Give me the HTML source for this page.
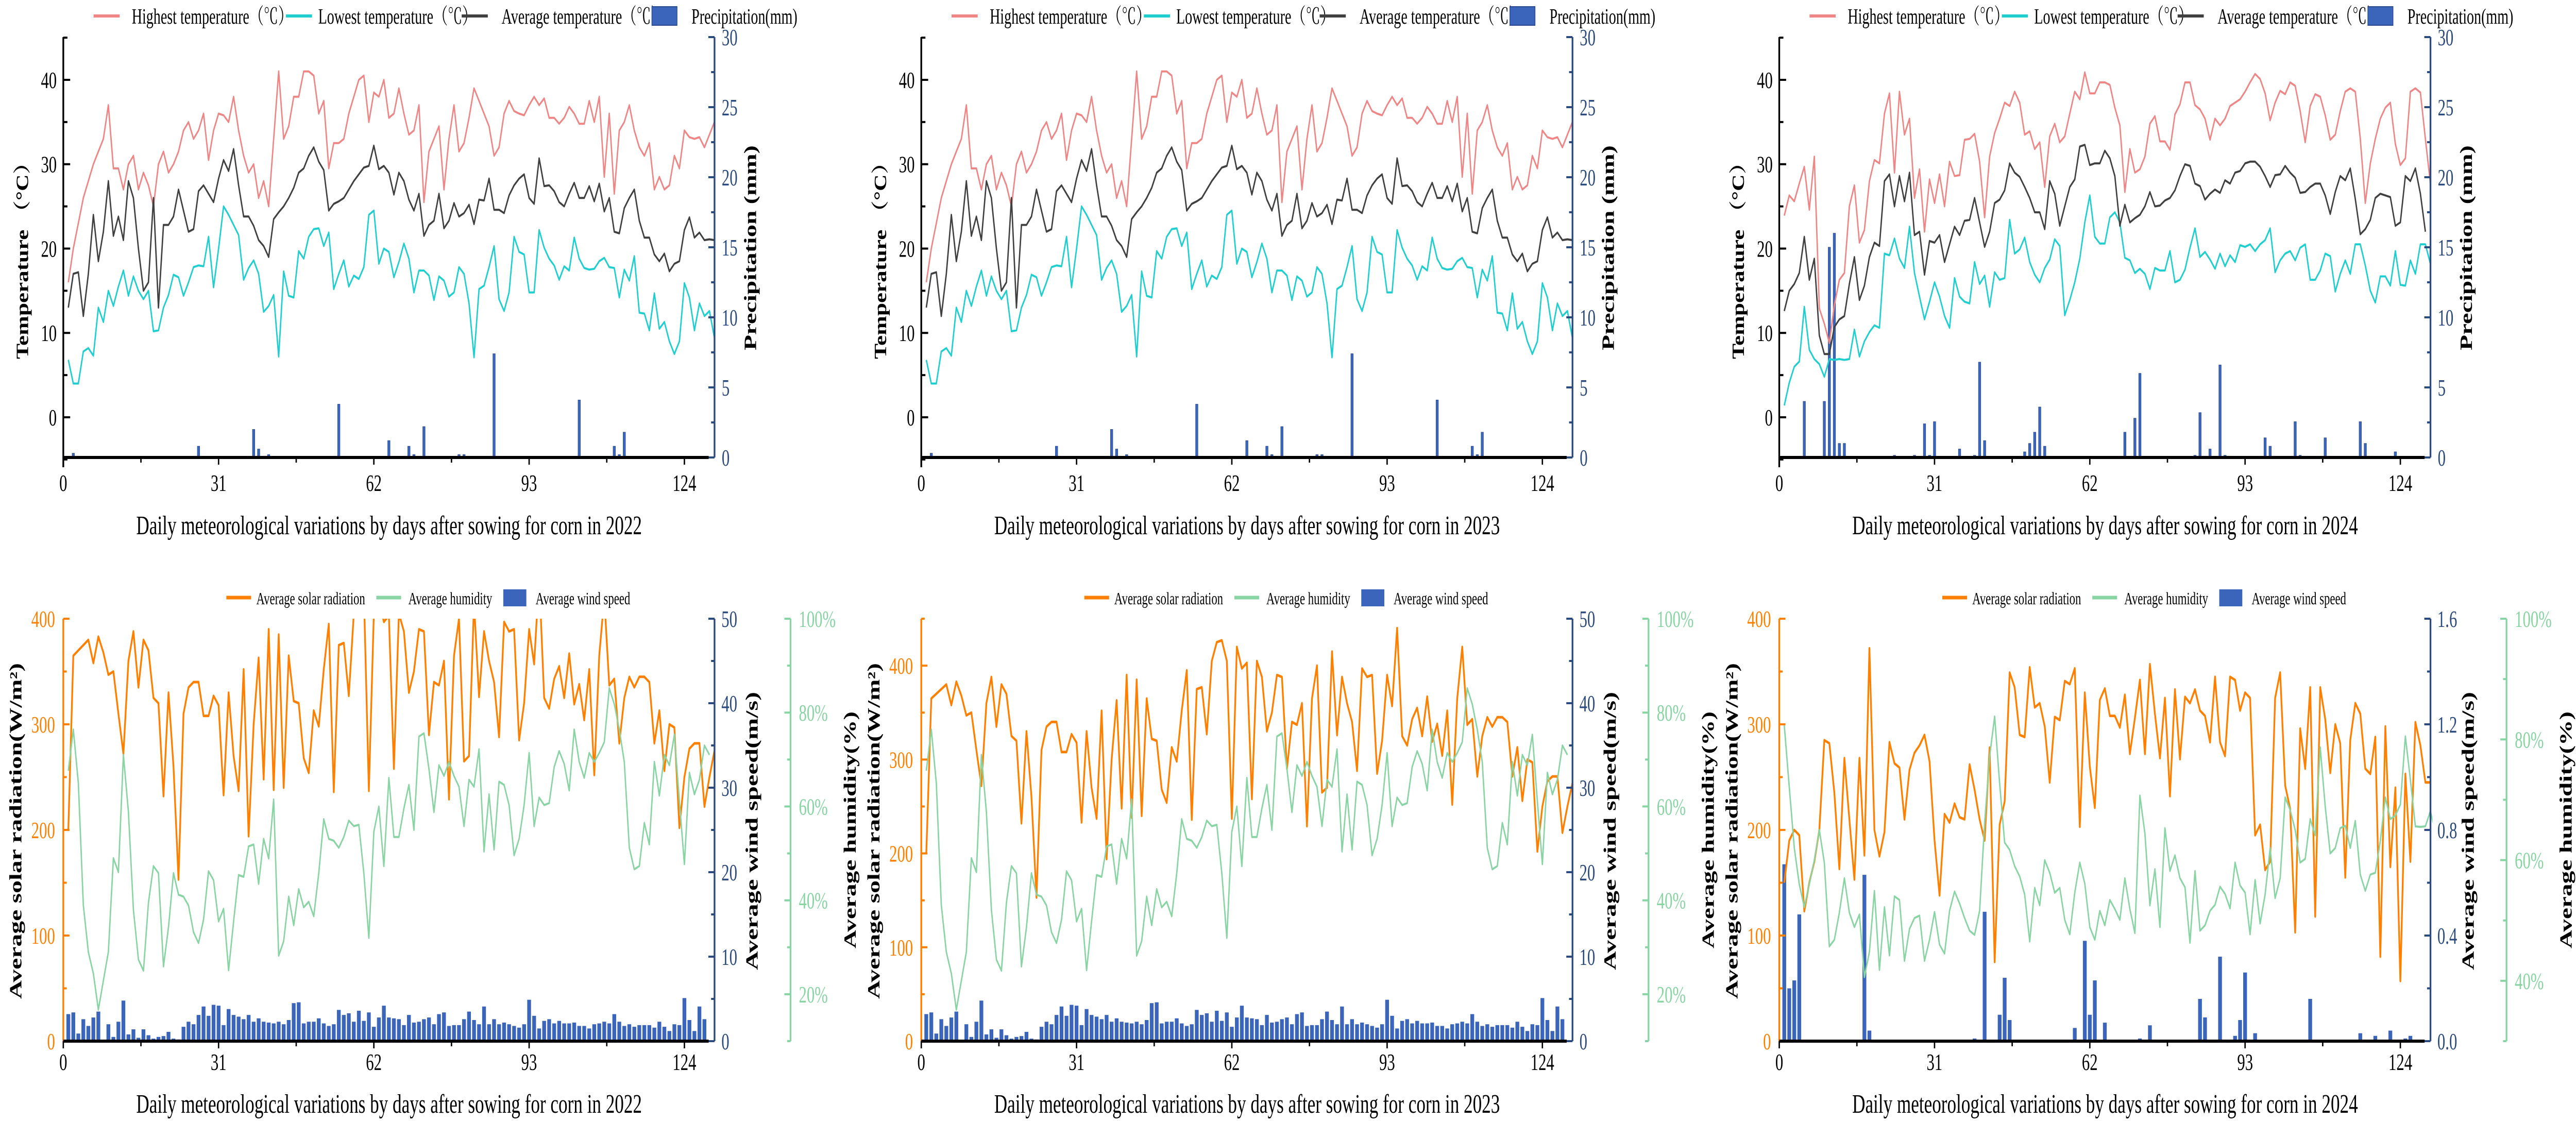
<!DOCTYPE html>
<html><head><meta charset="utf-8">
<style>
html,body{margin:0;padding:0;background:#fff;overflow:hidden;width:100%;height:100%;}
#wrap{position:absolute;left:0;top:0;width:100vw;height:100vh;overflow:hidden;}
svg{display:block;width:100%;height:100%;font-family:"Liberation Serif","Noto Serif CJK SC",serif;}
</style></head>
<body>
<div id="wrap">
<svg id="chart" xmlns="http://www.w3.org/2000/svg" viewBox="0 0 7488 2176" preserveAspectRatio="none"></svg>
</div>
<script>
// ===== 2022 =====
const high2022 = [16,20,23,26,28,30,31.5,33,37,29.5,29.5,27,30,31,27,29,27.5,25,30,31.5,29,30,31.5,34,35,33,34,36,30.5,34,36,35.8,35,38,34,31,29,30,26,28,25,33,41,33,34.5,38,38,41,41,40.5,36,37.5,29.5,32.5,32.5,33,36,38,40,40.5,35,38.5,38,40,35.5,36,39,36,33.5,34,37,25.5,31.5,33,34.5,27,33,37,31.5,32.5,35.5,39,37.5,36,34.5,31,32,36,37.5,36.3,36,35.8,37,38,37,37.8,35.5,35.5,34.8,35.5,36.8,36,34.8,34.8,37.5,35,38,28.5,36,26.5,34,35,37,34,32,31,32.5,27,28.5,27,27.5,31,29.5,34,33.2,33,33.2,32,33.5,35];
const avg2022 = [13,17,17.2,12,17,24,18.5,22,28,21.5,23.8,21,28,26,20,15,16,26,13,22.8,22.8,23.8,27,24.5,22,22.3,26.8,27.5,26.5,25.5,28.3,30.5,29.2,31.8,27.5,23.8,23.8,22.7,21,20.3,19,23.5,24.3,25,26,27.2,29,29.5,31,32,30.3,29.3,24.5,25.3,25.6,26,27,28,28.8,29.6,29.8,32.2,29.4,29.8,29,26.4,29,28,25.8,24.5,26.5,21.5,22.8,23.3,26.5,22.4,23.3,25.4,23.8,24.2,25.2,22.9,25.8,25.7,28.3,24.6,24.6,24.2,26.3,27.5,28.3,28.8,26,25.3,30.7,27.4,27.5,26.8,25.5,25,26.5,27.8,26,26,27.4,25.6,27.7,24.4,26,22,21.8,24.8,26,27,23.3,21.3,21.3,19.3,18.5,19.4,17.3,18.2,18.5,22.2,23.7,21.3,21.9,21,21.1,21];
const low2022 = [6.8,4,4,7.8,8.2,7.3,13,11.3,15,13.2,15.5,17.4,14.4,16.7,15,14,15,10.2,10.3,13,14.5,16.9,16.6,14.4,16,17.8,18,17.9,21.4,15.4,20,25,24,22.8,21.6,16.3,17.7,18.6,17,12.5,13.2,14.5,7.2,17.3,14.4,14.2,19.7,18.8,21.4,22.3,22.4,20.3,21.9,15.2,17,18.6,15.5,16.8,16.4,17.8,24,24.5,18.2,20,19.6,16.6,18.4,20.6,18.8,14.8,17.4,17.4,16.8,13.9,16.7,16.2,14.3,14.8,17.8,17,13.5,7.1,15.2,15.6,17.8,20.3,14,12.6,14.8,21.4,19.6,19.3,14.8,14.8,22.2,20.1,18.8,18,16.3,17.9,17.4,21.3,18.8,17.7,17.5,17.6,18.5,18.9,17.8,17.7,14.2,17.5,16.2,19.1,12.4,12.3,10.3,14.7,10.5,11.3,9,7.5,9,15.9,14.2,10.3,13.5,12,12.6,9.4];
const precipDays2022 = [2,27,38,39,41,55,65,69,70,72,79,80,86,103,110,111,112];
const precip2022 = [0.3,0.8,2.0,0.6,0.2,3.8,1.2,0.8,0.2,2.2,0.2,0.2,7.4,4.1,0.8,0.2,1.8];
const rad2022 = [200,365,370,375,380,358,383,368,347,350,310,272,360,388,335,380,370,325,320,232,330,260,153,310,335,340,340,308,308,327,318,233,330,270,237,352,194,300,363,248,390,238,385,240,365,322,320,268,254,313,298,352,395,236,375,377,327,405,425,427,237,405,420,397,403,258,405,388,330,350,390,388,290,340,337,360,229,365,400,265,270,415,326,388,360,340,288,397,388,390,285,320,390,357,440,325,315,343,355,325,367,319,338,304,352,252,365,420,337,343,282,325,345,335,345,345,340,282,313,256,300,297,202,250,277,282,282,222,250,275];
const hum2022 = [67.6,76.4,65,39,29,24.4,16.7,22.9,29,49,46,71,58.8,38,27.4,25,39.5,47.3,45.8,25.9,34.3,45.8,41.2,40.8,38.9,33.2,30.9,35.9,46.2,44.3,35.5,38.2,25.1,35.5,45.4,45,51.5,51.9,43.5,53.1,48.9,61.5,28.2,31.3,40.8,34.7,42.4,38.5,39.7,36.6,45.8,57.3,53.1,52.7,51.2,53.5,57,55.8,56.1,45.8,32,54.6,60,47.3,66.1,53.5,53.5,59.6,64.6,55,74.9,75.6,68,58.8,68.8,66.5,69.5,66.5,64.2,55.8,65.7,64.2,72.2,50.4,62.6,50.8,65.3,64.6,60.3,49.6,53.1,60.3,71.4,55.8,61.9,60.3,60.7,68.4,71.8,69.1,63.4,76.4,69.5,66.1,71.4,69.5,71.4,73.7,85.2,81.8,76.4,69.5,51.2,46.6,47.3,56.5,51.9,69.5,62.3,71,68.8,75.3,61.1,47.7,67.2,62.6,65.7,73,71];
const wind2022 = [3.2,3.4,0.9,2.6,1.8,2.8,3.5,0,2,0.5,2.3,4.8,0.8,1.4,0.4,1.4,0.7,0.3,0.5,0.6,1.1,0.3,0.2,1.7,2.3,2,3.1,4.1,3,4.3,4.2,1.9,3.8,3.1,2.9,2.6,3.1,2.3,2.7,2.3,2.2,2.1,2.3,2,2.5,4.5,4.6,2.1,2.3,2.3,2.7,2.1,1.8,2,3.7,3.1,3.3,2.3,3.6,2.4,3.4,1.7,2.8,4.2,2.8,2.7,2.6,1.9,3.1,2.2,2.3,2.6,2.8,2,3.2,3.4,1.8,1.9,1.9,2.6,3.5,2.5,2,4.1,2,2.6,2,2.2,2,1.8,1.6,2,4.9,3,1.5,2.4,2.6,2.1,2.4,2.1,2.1,2.2,1.8,1.8,1.5,2,2.1,2.3,2.1,3.2,2.3,1.8,2,1.7,1.9,1.9,1.9,1.6,2.3,1.7,1.2,2,1.9,5.1,2.5,1.2,4.1,2.6];
// ===== 2023 =====
const high2023 = [16,20,23,26,28,30,31.5,33,37,29.5,29.5,27,30,31,27,29,27.5,25,30,31.5,29,30,31.5,34,35,33,34,36,30.5,34,36,35.8,35,38,34,31,29,30,26,28,25,33,41,33,34.5,38,38,41,41,40.5,36,37.5,29.5,32.5,32.5,33,36,38,40,40.5,35,38.5,38,40,35.5,36,39,36,33.5,34,37,25.5,31.5,33,34.5,27,33,37,31.5,32.5,35.5,39,37.5,36,34.5,31,32,36,37.5,36.3,36,35.8,37,38,37,37.8,35.5,35.5,34.8,35.5,36.8,36,34.8,34.8,37.5,35,38,28.5,36,26.5,34,35,37,34,32,31,32.5,27,28.5,27,27.5,31,29.5,34,33.2,33,33.2,32,33.5,35];
const avg2023 = [13,17,17.2,12,17,24,18.5,22,28,21.5,23.8,21,28,26,20,15,16,26,13,22.8,22.8,23.8,27,24.5,22,22.3,26.8,27.5,26.5,25.5,28.3,30.5,29.2,31.8,27.5,23.8,23.8,22.7,21,20.3,19,23.5,24.3,25,26,27.2,29,29.5,31,32,30.3,29.3,24.5,25.3,25.6,26,27,28,28.8,29.6,29.8,32.2,29.4,29.8,29,26.4,29,28,25.8,24.5,26.5,21.5,22.8,23.3,26.5,22.4,23.3,25.4,23.8,24.2,25.2,22.9,25.8,25.7,28.3,24.6,24.6,24.2,26.3,27.5,28.3,28.8,26,25.3,30.7,27.4,27.5,26.8,25.5,25,26.5,27.8,26,26,27.4,25.6,27.7,24.4,26,22,21.8,24.8,26,27,23.3,21.3,21.3,19.3,18.5,19.4,17.3,18.2,18.5,22.2,23.7,21.3,21.9,21,21.1,21];
const low2023 = [6.8,4,4,7.8,8.2,7.3,13,11.3,15,13.2,15.5,17.4,14.4,16.7,15,14,15,10.2,10.3,13,14.5,16.9,16.6,14.4,16,17.8,18,17.9,21.4,15.4,20,25,24,22.8,21.6,16.3,17.7,18.6,17,12.5,13.2,14.5,7.2,17.3,14.4,14.2,19.7,18.8,21.4,22.3,22.4,20.3,21.9,15.2,17,18.6,15.5,16.8,16.4,17.8,24,24.5,18.2,20,19.6,16.6,18.4,20.6,18.8,14.8,17.4,17.4,16.8,13.9,16.7,16.2,14.3,14.8,17.8,17,13.5,7.1,15.2,15.6,17.8,20.3,14,12.6,14.8,21.4,19.6,19.3,14.8,14.8,22.2,20.1,18.8,18,16.3,17.9,17.4,21.3,18.8,17.7,17.5,17.6,18.5,18.9,17.8,17.7,14.2,17.5,16.2,19.1,12.4,12.3,10.3,14.7,10.5,11.3,9,7.5,9,15.9,14.2,10.3,13.5,12,12.6,9.4];
const precipDays2023 = [2,27,38,39,41,55,65,69,70,72,79,80,86,103,110,111,112];
const precip2023 = [0.3,0.8,2.0,0.6,0.2,3.8,1.2,0.8,0.2,2.2,0.2,0.2,7.4,4.1,0.8,0.2,1.8];
const rad2023 = [200,365,370,375,380,358,383,368,347,350,310,272,360,388,335,380,370,325,320,232,330,260,153,310,335,340,340,308,308,327,318,233,330,270,237,352,194,300,363,248,390,238,385,240,365,322,320,268,254,313,298,352,395,236,375,377,327,405,425,427,405,237,420,397,403,258,405,388,330,350,390,388,290,340,337,360,229,365,400,265,270,415,326,388,360,340,288,397,388,390,285,320,390,357,440,325,315,343,355,325,367,319,338,304,352,252,365,420,337,343,282,325,345,335,345,345,340,282,313,256,300,297,202,250,277,282,282,222,250,275];
const hum2023 = [67.6,76.4,65,39,29,24.4,16.7,22.9,29,49,46,71,58.8,38,27.4,25,39.5,47.3,45.8,25.9,34.3,45.8,41.2,40.8,38.9,33.2,30.9,35.9,46.2,44.3,35.5,38.2,25.1,35.5,45.4,45,51.5,51.9,43.5,53.1,48.9,61.5,28.2,31.3,40.8,34.7,42.4,38.5,39.7,36.6,45.8,57.3,53.1,52.7,51.2,53.5,57,55.8,56.1,45.8,32,54.6,60,47.3,66.1,53.5,53.5,59.6,64.6,55,74.9,75.6,68,58.8,68.8,66.5,69.5,66.5,64.2,55.8,65.7,64.2,72.2,50.4,62.6,50.8,65.3,64.6,60.3,49.6,53.1,60.3,71.4,55.8,61.9,60.3,60.7,68.4,71.8,69.1,63.4,76.4,69.5,66.1,71.4,69.5,71.4,73.7,85.2,81.8,76.4,69.5,51.2,46.6,47.3,56.5,51.9,69.5,62.3,71,68.8,75.3,61.1,47.7,67.2,62.6,65.7,73,71];
const wind2023 = [3.2,3.4,0.9,2.6,1.8,2.8,3.5,0,2,0.5,2.3,4.8,0.8,1.4,0.4,1.4,0.7,0.3,0.5,0.6,1.1,0.3,0.2,1.7,2.3,2,3.1,4.1,3,4.3,4.2,1.9,3.8,3.1,2.9,2.6,3.1,2.3,2.7,2.3,2.2,2.1,2.3,2,2.5,4.5,4.6,2.1,2.3,2.3,2.7,2.1,1.8,2,3.7,3.1,3.3,2.3,3.6,2.4,3.4,1.7,2.8,4.2,2.8,2.7,2.6,1.9,3.1,2.2,2.3,2.6,2.8,2,3.2,3.4,1.8,1.9,1.9,2.6,3.5,2.5,2,4.1,2,2.6,2,2.2,2,1.8,1.6,2,4.9,3,1.5,2.4,2.6,2.1,2.4,2.1,2.1,2.2,1.8,1.8,1.5,2,2.1,2.3,2.1,3.2,2.3,1.8,2,1.7,1.9,1.9,1.9,1.6,2.3,1.7,1.2,2,1.9,5.1,2.5,1.2,4.1,2.6];
// ===== 2024 =====
const high2024 = [23.9,26.3,25.6,27.7,29.7,24.6,30.9,12.9,11.1,8.8,13.3,16.3,17.1,25,27.5,20.7,22.2,28,30.5,30.1,36,38.4,29,38.6,33.5,35.4,26,29.4,22,28.2,25.4,28.8,25,30.3,28.6,28.7,32.9,33,33.6,30.3,23.7,30.9,33.7,35.4,37.3,36.9,38.6,37.3,33.5,33.9,31.8,32.6,27.3,33.3,34.8,32.6,33.3,36,38.6,37.7,40.9,38.4,38.4,39.7,39.7,39.4,36.7,34.6,26.7,31.8,29,29.4,30.9,34.8,35.7,32.7,32.7,31.7,35.9,37.1,39.7,39.7,37,36.5,35.4,32.9,35.4,34.6,35.4,36.9,37.3,37.7,38.6,39.7,40.7,40.1,38.4,35.2,37.3,38.7,38.3,39.7,39.3,36.3,32.6,36.9,38.3,38,35.8,32.9,33.5,36.3,38.6,39,38.6,33,25.4,30.1,33,35.4,36.7,37.3,32.4,29.9,30.7,38.6,39,38.5,33,27.7];
const avg2024 = [12.6,15,15.8,17.1,21.4,16.3,18.8,9.7,7.5,7.5,10.7,11.6,12,15.8,19,13.9,15.6,19,20.7,20.3,28,28.8,25,28.6,25.6,29,21.6,22,16.9,20.9,20.7,21.6,18.4,20.5,22.6,21.6,23.3,23.4,26,23.1,20.2,22,25.4,25.8,26.9,30.1,29,28.5,27.3,26,24.3,24.3,22.3,28,26.5,22.7,25,27.3,28.2,32.1,32.3,29.9,30.1,30.1,31.6,30.7,28.6,22.7,25.2,23.1,23.6,24,25,26.7,25,25.1,25.7,26,26.9,28.6,30,29.8,27.7,27.4,25.8,26.5,27,26.6,28.1,27.7,29,29.2,30.1,30.3,30.3,29.7,28.6,27.3,28.7,28.8,29.8,29,28.4,26.6,26.7,27.3,27.7,27.7,26.3,24.1,26.7,28.6,28.1,29.5,25.9,21.7,22.3,23.4,26,26.5,26.3,26.1,22.7,23.1,28.6,28,29.5,26.5,22];
const low2024 = [1.4,4.1,6,6.6,13.1,8,6.9,6.3,4.8,6.9,6.8,6.9,6.8,6.9,10.4,7.2,9,10.1,10.9,10.6,19.4,19.2,21.2,18.8,17.7,22.6,17.1,14.3,11.6,13.7,16,14.3,12,10.6,16.5,14.3,13.7,13.5,18.4,15.8,16.8,13.1,17.2,16.3,16.5,23.4,19.4,19.9,21.3,18.4,16.9,16,17.7,18.7,21.1,20.3,12.1,13.9,16,18.8,23.1,26.3,21.4,20.6,20.6,23.7,24.3,23.1,18.9,18.6,17.1,17.6,17,15.2,17.7,17.4,17.4,19.7,16,16.3,17.5,20.1,22.4,19,19.6,18.7,17.6,19.4,17.9,19.2,18.4,20.4,20.2,20.5,19.7,20.5,21,22.4,17.2,18.6,19.4,19.7,18.6,20.1,20.5,16.3,16.3,17.4,19.4,19.1,14.9,17,18.6,17,20.5,20.5,18,15,13.6,16.7,16.7,15.6,19.7,15.7,15.6,18.6,17,20.5,20.5,18.2];
const precipDays2024 = [5,9,10,11,12,13,23,27,29,30,31,36,39,40,41,49,50,51,52,53,69,71,72,83,84,86,88,89,97,98,103,104,109,116,117,123];
const precip2024 = [4.0,4.0,15.0,16.0,1.0,1.0,0.15,0.15,2.4,0.15,2.55,0.6,0.15,6.8,1.2,0.4,1.0,1.8,3.6,0.8,1.8,2.8,6.0,0.15,3.2,0.6,6.6,0.15,1.4,0.8,2.55,0.15,1.4,2.55,1.0,0.4];
const rad2024 = [150,190,200,195,123,150,170,200,285,282,235,163,268,210,153,268,176,372,200,175,198,283,263,259,210,257,273,280,290,265,190,138,215,207,225,212,210,262,238,210,190,278,75,205,227,349,335,290,288,354,316,320,298,245,307,304,341,338,353,203,330,260,221,323,334,308,308,297,328,272,306,342,272,357,310,268,325,232,333,267,326,320,333,313,308,283,345,283,270,345,342,313,330,325,195,205,162,170,325,349,242,220,103,296,258,335,118,335,305,254,300,282,155,285,320,310,258,253,288,80,298,165,240,57,253,170,302,280,245,245];
const hum2024 = [82.3,72.1,62,56,52.2,56,60,65,59.6,45.7,46.8,51.3,57,51.3,48.9,51,40.6,44.8,54.9,41.8,52.2,44.2,54,53.4,43.3,48.6,50.4,50.8,43.3,46.8,51.4,46,44.5,51.6,54.8,52.8,50.4,48.3,47.6,51.6,66.2,77.2,83.8,72.7,62.9,61.7,59,57.3,54.3,46.5,55.4,52.5,60,57.9,54.6,55.4,50.1,47.7,54.6,59.6,56.1,48.9,46.8,51.6,49.2,53.4,51.9,50.1,57,51.9,47.9,70.7,64.4,52.5,58.5,48.9,65.3,58.2,60.8,57,55.5,46.3,58.2,48.3,49.2,51.6,52.6,55.6,54.4,52,59.6,55.8,54.6,47.7,56.7,49.5,54.3,62,53.7,57,70.4,68.3,65,59.6,60.2,66.8,64.1,78.7,68.9,61.1,62,65.3,65.7,62,66.5,57.6,54.9,57.6,57.9,63.2,70.4,66.8,67.4,69.2,80.5,73.3,65.6,65.5,65.6,68.1,64.4];
const windDays2024 = [1,2,3,4,17,18,39,41,44,45,46,59,61,62,63,65,72,74,84,85,88,91,92,93,95,106,116,119,122,125,126];
const wind2024 = [0.67,0.2,0.23,0.48,0.63,0.04,0.01,0.49,0.1,0.24,0.08,0.05,0.38,0.1,0.23,0.07,0.01,0.06,0.16,0.09,0.32,0.02,0.08,0.26,0.03,0.16,0.03,0.02,0.04,0.01,0.02];
// ticks
const xTicks = [0,31,62,93,124];
const tempTicks = [0,10,20,30,40];
const precipTicks = [0,5,10,15,20,25,30];
const radTicks = [0,100,200,300,400];
const windTicks50 = [0,10,20,30,40,50];
const windTicks16 = [0,0.4,0.8,1.2,1.6];
const windLabels16 = ['0.0','0.4','0.8','1.2','1.6'];
const humTicksA = [20,40,60,80,100];
const humTicksB = [40,60,80,100];

const NS='http://www.w3.org/2000/svg';
const svg=document.getElementById('chart');
function mk(tag,attrs,parent,txt){const e=document.createElementNS(NS,tag);for(const k in attrs)e.setAttribute(k,attrs[k]);if(txt!==undefined)e.textContent=txt;(parent||svg).appendChild(e);return e;}
const C={high:'#EF8585',low:'#1FCFCF',avg:'#404040',blue:'#3A65BA',navy:'#2B4A7E',orange:'#FF8000',green:'#88D4A2'};
const X0=184, XS=14.56, XR=2077, HUMX=2298;

function xAxis(off,yAx,gy,lblY,title,titleY){
  const gx=mk('g',{},gy);
  
  
  const ln=mk('line',{x1:off+X0,x2:off+2060,y1:yAx,y2:yAx,stroke:'#000','stroke-width':6},gx);
  
  
  for(let i=0;i<xTicks.length;i++){
    const xx=off+X0+xTicks[i]*XS;
    const tk=mk('line',{x1:xx,x2:xx,y1:yAx,y2:yAx+14,stroke:'#000','stroke-width':4},gx);
    
    
    if(i<xTicks.length-1){const xm=off+X0+(xTicks[i]+15.5)*XS;
      const mt=mk('line',{x1:xm,x2:xm,y1:yAx,y2:yAx+10,stroke:'#000','stroke-width':4},gx);
      
      }
    const t=mk('text',{x:xx,y:lblY,'font-size':46,'text-anchor':'middle'},gx,String(xTicks[i]));
    
    
  }
  const tt=mk('text',{x:off+1131,y:titleY,'font-size':52,'text-anchor':'middle',textLength:1470,lengthAdjust:'spacingAndGlyphs'},gx,title);
  
  
}
function vtitle(g,cx,cy,len,txt,name,size){
  const t=mk('text',{x:0,y:0,'font-size':size,'font-weight':'bold','text-anchor':'middle',textLength:len,lengthAdjust:'spacingAndGlyphs',transform:`translate(${cx+size*0.35},${cy}) rotate(-90)`},g,txt);
  
  
}
function path(g,vals,startDay,fx,fy,color,w,name){
  let d='';for(let i=0;i<vals.length;i++){d+=(i?'L':'M')+fx(startDay+i).toFixed(1)+','+fy(vals[i]).toFixed(1);}
  const p=mk('path',{d:d,fill:'none',stroke:color,'stroke-width':w,'stroke-linejoin':'round'},g);
  
  
}

function topPanel(off,high,avg,low,pDays,pVals,year){
  const g=mk('g',{});
  
  
  const fx=d=>off+X0+d*XS, ft=t=>810-t*16.375, fp=p=>888-p*27.2;
  const lg=mk('g',{},g);
  
  
  const items=[['Highest temperature（℃）',C.high,272,383],['Lowest temperature（℃）',C.low,831,925],['Average temperature（℃）',C.avg,1342,1458]];
  for(const it of items){
    const l=mk('line',{x1:off+it[2],x2:off+it[2]+76,y1:31,y2:31,stroke:it[1],'stroke-width':6},lg);
    
    
    const t=mk('text',{x:off+it[3],y:46,'font-size':42},lg,it[0]);
    
    
  }
  const r=mk('rect',{x:off+1895,y:13,width:73,height:36,fill:C.blue,stroke:'#2a4a90','stroke-width':2},lg);
  
  
  const rt=mk('text',{x:off+2010,y:46,'font-size':42},lg,'Precipitation(mm)');
  
  
  for(let i=0;i<pDays.length;i++){
    const y=fp(pVals[i]);
    const b=mk('rect',{x:fx(pDays[i])-3.5,y:y,width:7,height:888-y,fill:C.blue,stroke:'#2a4a90','stroke-width':1},g);
    
    
  }
  path(g,high,1,fx,ft,C.high,4,'highest-temp-line');
  path(g,low,1,fx,ft,C.low,4,'lowest-temp-line');
  path(g,avg,1,fx,ft,C.avg,4,'average-temp-line');
  const la=mk('line',{x1:off+X0,x2:off+X0,y1:72,y2:907,stroke:'#000','stroke-width':5},g);
  
  
  for(let v=-5;v<=45;v+=5){
    const major=tempTicks.indexOf(v)>=0;
    const tk=mk('line',{x1:off+X0,x2:off+X0+(major?20:12),y1:ft(v),y2:ft(v),stroke:'#000','stroke-width':4},g);
    
    
  }
  for(const v of tempTicks){
    const t=mk('text',{x:off+165,y:ft(v)+16,'font-size':46,'text-anchor':'end'},g,String(v));
    
    
  }
  const ra=mk('line',{x1:off+XR,x2:off+XR,y1:72,y2:888,stroke:C.navy,'stroke-width':5},g);
  
  
  for(let v=0;v<=30;v+=2.5){
    const major=precipTicks.indexOf(v)>=0;
    const tk=mk('line',{x1:off+XR,x2:off+XR-(major?18:10),y1:fp(v),y2:fp(v),stroke:C.navy,'stroke-width':4},g);
    
    
  }
  for(const v of precipTicks){
    const t=mk('text',{x:off+2098,y:fp(v)+16,'font-size':46,fill:C.navy},g,String(v));
    
    
  }
  vtitle(g,off+64,495,404,'Temperature （°C）','temperature-axis-title',50);
  vtitle(g,off+2180,481,398,'Precipitation (mm)','precipitation-axis-title',50);
  xAxis(off,888,g,953,'Daily meteorological variations by days after sowing for corn in '+year,1037);
}

function bottomPanel(off,rad,radMax,hum,humMin,windDays,wind,windMax,wTicks,wLabels,hTicks,year){
  const g=mk('g',{});
  
  
  const YT=1201,YB=2021;
  const fx=d=>off+X0+d*XS, fr=v=>YB-v*(YB-YT)/radMax, fw=v=>YB-v*(YB-YT)/windMax, fh=v=>YB-(v-humMin)*(YB-YT)/(100-humMin);
  const lg=mk('g',{},g);
  
  
  const items=[['Average solar radiation',C.orange,658,745],['Average humidity',C.green,1094,1187]];
  for(const it of items){
    const l=mk('line',{x1:off+it[2],x2:off+it[2]+72,y1:1160,y2:1160,stroke:it[1],'stroke-width':7},lg);
    
    
    const t=mk('text',{x:off+it[3],y:1173,'font-size':34},lg,it[0]);
    
    
  }
  const r=mk('rect',{x:off+1463,y:1144,width:67,height:33,fill:C.blue},lg);
  
  
  const rt=mk('text',{x:off+1557,y:1173,'font-size':34},lg,'Average wind speed');
  
  
  const cid='clip'+year;
  const cp=mk('clipPath',{id:cid},g);
  mk('rect',{x:off+X0,y:YT,width:XR-X0+6,height:YB-YT},cp);
  const cg=mk('g',{'clip-path':`url(#${cid})`},g);
  
  
  for(let i=0;i<wind.length;i++){
    const d=windDays?windDays[i]:i+1;
    const y=fw(wind[i]);
    const b=mk('rect',{x:fx(d)-5.5,y:y,width:11,height:YB-y,fill:C.blue},cg);
    
    
  }
  path(cg,rad,1,fx,fr,C.orange,5,'solar-radiation-line');
  path(cg,hum,1,fx,fh,C.green,4,'humidity-line');
  const la=mk('line',{x1:off+X0,x2:off+X0,y1:YT,y2:YB,stroke:C.orange,'stroke-width':5},g);
  
  
  for(let v=0;v<=radMax;v+=50){
    const major=radTicks.indexOf(v)>=0;
    const tk=mk('line',{x1:off+X0,x2:off+X0+(major?18:10),y1:fr(v),y2:fr(v),stroke:C.orange,'stroke-width':4},g);
    
    
  }
  for(const v of radTicks){
    const t=mk('text',{x:off+160,y:fr(v)+16,'font-size':46,'text-anchor':'end',fill:C.orange},g,String(v));
    
    
  }
  const wa=mk('line',{x1:off+XR,x2:off+XR,y1:YT,y2:YB,stroke:C.navy,'stroke-width':5},g);
  
  
  const step=wTicks[1]-wTicks[0];
  for(let i=0;i<wTicks.length;i++){
    const v=wTicks[i];
    const tk=mk('line',{x1:off+XR,x2:off+XR-18,y1:fw(v),y2:fw(v),stroke:C.navy,'stroke-width':4},g);
    
    
    if(i<wTicks.length-1){
      const mt=mk('line',{x1:off+XR,x2:off+XR-10,y1:fw(v+step/2),y2:fw(v+step/2),stroke:C.navy,'stroke-width':4},g);
      
      
    }
    const t=mk('text',{x:off+2097,y:fw(v)+16,'font-size':46,fill:C.navy},g,wLabels[i]);
    
    
  }
  const ha=mk('line',{x1:off+HUMX,x2:off+HUMX,y1:YT,y2:YB,stroke:C.green,'stroke-width':5},g);
  
  
  for(let v=humMin;v<=100;v+=10){
    const major=hTicks.indexOf(v)>=0;
    const tk=mk('line',{x1:off+HUMX,x2:off+HUMX-(major?18:10),y1:fh(v),y2:fh(v),stroke:C.green,'stroke-width':4},g);
    
    
  }
  for(const v of hTicks){
    const t=mk('text',{x:off+2322,y:fh(v)+16,'font-size':46,fill:C.green},g,v+'%');
    
    
  }
  vtitle(g,off+45,1613,652,'Average solar radiation(W/m²)','radiation-axis-title',50);
  vtitle(g,off+2185,1613,540,'Average wind speed(m/s)','wind-axis-title',50);
  vtitle(g,off+2470,1611,460,'Average humidity(%)','humidity-axis-title',50);
  xAxis(off,YB,g,2077,'Daily meteorological variations by days after sowing for corn in '+year,2160);
}

topPanel(0,high2022,avg2022,low2022,precipDays2022,precip2022,'2022');
topPanel(2494,high2023,avg2023,low2023,precipDays2023,precip2023,'2023');
topPanel(4988,high2024,avg2024,low2024,precipDays2024,precip2024,'2024');
bottomPanel(0,rad2022,400,hum2022,10,null,wind2022,50,windTicks50,windTicks50.map(String),humTicksA,'2022');
bottomPanel(2494,rad2023,450,hum2023,10,null,wind2023,50,windTicks50,windTicks50.map(String),humTicksA,'2023');
bottomPanel(4988,rad2024,400,hum2024,30,windDays2024,wind2024,1.6,windTicks16,windLabels16,humTicksB,'2024');
</script>
</body></html>
